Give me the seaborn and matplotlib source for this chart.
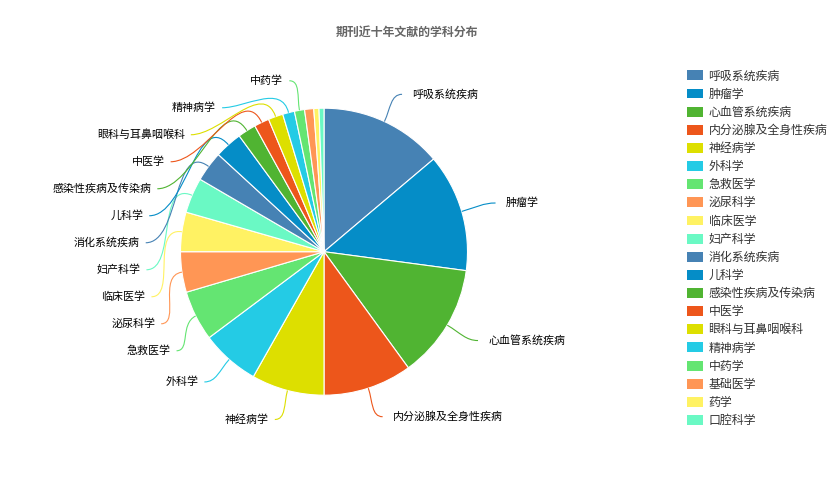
"""
期刊近十年文献的学科分布 - 饼图（ECharts 风格标签引导线）
"""
import numpy as np
import matplotlib
matplotlib.use("Agg")
import matplotlib.pyplot as plt
from matplotlib.path import Path
from matplotlib.patches import PathPatch, Patch
import seaborn as sns

sns.set_theme(style="white")
plt.rcParams['font.family'] = ['Noto Sans CJK SC', 'DejaVu Sans']

# 数据（按图例顺序）
subjects = ['呼吸系统疾病', '肿瘤学', '心血管系统疾病', '内分泌腺及全身性疾病', '神经病学',
            '外科学', '急救医学', '泌尿科学', '临床医学', '妇产科学',
            '消化系统疾病', '儿科学', '感染性疾病及传染病', '中医学', '眼科与耳鼻咽喉科',
            '精神病学', '中药学', '基础医学', '药学', '口腔科学']
counts = [498, 478, 464, 360, 295, 237, 204, 164, 160, 143,
          123, 112, 74, 61, 60, 48, 41, 37, 21, 20]
base_colors = ['#4682B4', '#058DC7', '#50B432', '#ED561B', '#DDDF00',
               '#24CBE5', '#64E572', '#FF9655', '#FFF263', '#6AF9C4']
chart_title = '期刊近十年文献的学科分布'

W, H = 830, 482
palette = sns.color_palette(base_colors * 2)

fig = plt.figure(figsize=(W / 100, H / 100), dpi=100)
ax = fig.add_axes([0, 0, 1, 1])

# 饼图中心和半径（像素，y 向下）
cx, cy, r = 324, 251.7, 143.5
ax.pie(counts, colors=palette, startangle=90, counterclock=False,
       center=(cx, H - cy), radius=r, frame=True,
       wedgeprops=dict(edgecolor='white', linewidth=0.8))
ax.set_xlim(0, W)
ax.set_ylim(0, H)
ax.set_aspect('equal')
ax.axis('off')

# --- 标签布局（模仿 ECharts 的外侧标签 + 防重叠） ---
len1, len2, row_h, min_angle = 30, 5, 27, 4.0
text_gap = {1: 10, -1: 6}
R1 = r + len1
spans = np.array(counts) / sum(counts) * 360
mids = np.cumsum(spans) - spans / 2

items = []
for i, (span, mid) in enumerate(zip(spans, mids)):
    if span < min_angle:
        continue
    t = np.radians(mid)
    s, c = np.sin(t), np.cos(t)
    items.append(dict(i=i, side=1 if s >= 0 else -1, s=s, c=c,
                      p0=(cx + r * s, cy - r * c),
                      x=cx + R1 * s, y=cy - R1 * c))

for side in (1, -1):
    group = sorted([it for it in items if it['side'] == side], key=lambda it: it['y'])
    shifted, last = False, -1e9
    for it in group:
        if it['y'] < last + row_h:
            it['y'] = last + row_h
            shifted = True
        last = it['y']
    if not shifted:
        continue
    for bottom in (False, True):
        members = [it for it in group if (it['y'] > cy) == bottom]
        if not members:
            continue
        ext = max(members, key=lambda it: abs(it['y'] - cy))
        dy, dx = abs(ext['y'] - cy), ext['x'] - cx
        rB = dy / np.sqrt(1 - dx * dx / R1 / R1) if abs(dx) < R1 else R1
        for it in members:
            dy = abs(it['y'] - cy)
            it['x'] = cx + side * np.sqrt(max(0.0, 1 - dy * dy / rB / rB)) * R1

for it in items:
    side, col = it['side'], palette[it['i']]
    x0, y0 = it['p0']
    x1, y1 = it['x'], it['y']
    x2 = x1 + side * len2
    dist = np.hypot(x2 - x0, y1 - y0)
    c1 = (x0 + it['s'] * dist * 0.45, y0 - it['c'] * dist * 0.45)
    c2 = (x2 - side * dist * 0.35, y1)
    verts = [(x0, H - y0), (c1[0], H - c1[1]), (c2[0], H - c2[1]), (x2, H - y1)]
    path = Path(verts, [Path.MOVETO, Path.CURVE4, Path.CURVE4, Path.CURVE4])
    ax.add_patch(PathPatch(path, facecolor='none', edgecolor=col, linewidth=0.8))
    ax.text(x2 + side * text_gap[side], H - y1, subjects[it['i']],
            ha='left' if side > 0 else 'right', va='center',
            fontsize=7.9, fontweight='medium', color='black')

# 标题
fig.text(406.5 / W, 1 - 32 / H, chart_title, ha='center', va='center',
         fontsize=8.6, fontweight='bold', color='#666666')

# 图例
handles = [Patch(facecolor=palette[i], edgecolor='none') for i in range(len(subjects))]
leg = fig.legend(handles, subjects, loc='upper left', bbox_to_anchor=(687 / W, 1 - 69.5 / H),
                 frameon=False, fontsize=8.6, handlelength=1.3, handleheight=0.9,
                 handletextpad=0.5, labelspacing=0.43, borderpad=0, borderaxespad=0)
for t in leg.get_texts():
    t.set_color('#333333')

fig.savefig('out.png', dpi=100)
